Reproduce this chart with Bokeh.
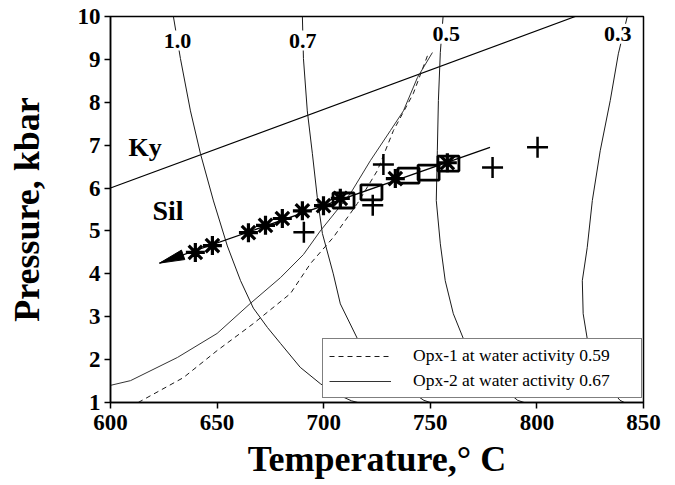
import math
from bokeh.plotting import figure
from bokeh.models import Range1d, FixedTicker, Label, Legend, LegendItem
from bokeh.embed import file_html
from bokeh.resources import INLINE

# ---------------- data ----------------
# Kyanite / Sillimanite boundary
kysil_t = [600, 818]
kysil_p = [6.0, 10.0]

# water-activity isopleths
iso10_t = [629.5, 632.8, 637.5, 642.2, 648.3, 654.8, 661.0, 667.0, 673.6, 679.7, 689.0, 698.4, 705.0, 713.0, 716.0]
iso10_p = [10.0, 9.02, 7.8, 6.8, 5.7, 4.65, 3.84, 3.2, 2.75, 2.38, 1.82, 1.44, 1.22, 1.04, 1.0]
iso07_t = [690.0, 690.5, 692.3, 694.7, 697.0, 699.4, 704.5, 707.8, 715.8, 725.0, 735.0, 747.0, 750.0]
iso07_p = [10.0, 9.02, 7.8, 6.8, 5.78, 4.94, 4.0, 3.3, 2.49, 1.9, 1.45, 1.05, 1.0]
iso05_t = [756.0, 754.7, 753.8, 753.3, 752.8, 754.7, 757.0, 760.8, 765.5, 773.0, 781.0, 791.0, 794.0]
iso05_p = [10.0, 9.16, 8.04, 6.87, 5.71, 4.7, 3.84, 3.07, 2.49, 1.9, 1.45, 1.05, 1.0]
iso03_t = [842.4, 838.2, 834.4, 829.7, 826.0, 823.6, 821.3, 821.7, 823.6, 827.0, 832.0, 839.0, 841.0]
iso03_p = [10.0, 9.13, 8.04, 6.87, 5.71, 4.61, 3.84, 3.07, 2.49, 1.9, 1.45, 1.05, 1.0]

iso_labels = ["1.0", "0.7", "0.5", "0.3"]
iso_label_t = [631.4, 690.2, 757.5, 837.9]
iso_label_p = [9.44, 9.44, 9.60, 9.60]

# Opx curves
opx1_t = [613.0, 634.2, 650.0, 667.0, 684.4, 693.8, 704.5, 715.8, 725.2, 732.7, 742.0, 749.0]
opx1_p = [1.0, 1.58, 2.21, 2.84, 3.54, 4.24, 4.85, 5.64, 6.41, 7.34, 8.2, 9.13]
opx2_t = [600.0, 609.4, 631.4, 650.0, 665.6, 679.7, 690.5, 698.4, 712.5, 721.9, 731.3, 737.4, 744.0, 751.0]
opx2_p = [1.40, 1.51, 2.05, 2.61, 3.31, 3.91, 4.45, 5.0, 5.87, 6.64, 7.34, 7.8, 8.58, 9.16]
legend_labels = ["Opx-1 at water activity 0.59", "Opx-2 at water activity 0.67"]

# P-T path (trend with arrow at low-P end)
trend_t = [778.0, 623.0]
trend_p = [6.95, 4.25]

# estimates
ast_t = [639.8, 647.8, 664.7, 672.7, 680.6, 690.0, 699.9, 707.8, 733.6, 758.0]
ast_p = [4.50, 4.66, 4.96, 5.13, 5.29, 5.47, 5.59, 5.76, 6.22, 6.59]
box_t = [709.3, 722.4, 739.8, 749.2, 758.5]
box_p = [5.71, 5.90, 6.29, 6.36, 6.57]
plus_t = [690.7, 723.0, 728.0, 779.2, 800.3]
plus_p = [4.97, 5.60, 6.55, 6.48, 6.95]

x_ticks = [600, 650, 700, 750, 800, 850]
y_ticks = [1, 2, 3, 4, 5, 6, 7, 8, 9, 10]

# ---------------- figure ----------------
SERIF = "Liberation Serif"
X0, X1, Y0, Y1 = 600, 850, 1, 10
FW, FH = 533, 386
W, H = 665, 485
ML, MT = 110, 16

p = figure(width=W, height=H, output_backend="svg", toolbar_location=None,
           x_range=Range1d(X0, X1), y_range=Range1d(Y0, Y1),
           min_border_left=ML, min_border_top=MT,
           min_border_right=W - ML - FW, min_border_bottom=H - MT - FH)
p.background_fill_color = "white"
p.border_fill_color = "white"
p.outline_line_color = "black"
p.outline_line_width = 1.5
p.xgrid.grid_line_color = None
p.ygrid.grid_line_color = None

for ax, ticks in ((p.xaxis[0], x_ticks), (p.yaxis[0], y_ticks)):
    ax.ticker = FixedTicker(ticks=ticks)
    ax.axis_line_color = "black"
    ax.axis_line_width = 1.5
    ax.major_tick_line_color = "black"
    ax.major_tick_line_width = 1.5
    ax.major_tick_out = 6
    ax.major_tick_in = 0
    ax.minor_tick_line_color = None
    ax.major_label_text_font = SERIF
    ax.major_label_text_font_style = "bold"
    ax.major_label_text_font_size = "23px"
    ax.major_label_text_color = "black"
    ax.axis_label_text_font = SERIF
    ax.axis_label_text_font_style = "bold"
    ax.axis_label_text_font_size = "36px"
    ax.axis_label_text_color = "black"

p.xaxis.axis_label = "Temperature,\u00b0 C"
p.yaxis.axis_label = "Pressure, kbar"
p.xaxis.major_label_standoff = 6
p.yaxis.major_label_standoff = 4
p.xaxis.axis_label_standoff = 6
p.yaxis.axis_label_standoff = 28

LC = "#1a1a1a"
p.line(kysil_t, kysil_p, line_color="black", line_width=1.2)
for tt, pp in ((iso10_t, iso10_p), (iso07_t, iso07_p), (iso05_t, iso05_p), (iso03_t, iso03_p)):
    p.line(tt, pp, line_color=LC, line_width=1)

r1 = p.line(opx1_t, opx1_p, line_color=LC, line_width=1, line_dash="5 4")
r2 = p.line(opx2_t, opx2_p, line_color="#333333", line_width=1)

# trend line with arrow head
p.line(trend_t, trend_p, line_color="black", line_width=1.2)
sx = FW / (X1 - X0)
sy = FH / (Y1 - Y0)
tip_t, tip_p = trend_t[-1], trend_p[-1]
dx = (trend_t[0] - tip_t) * sx
dy = (trend_p[0] - tip_p) * sy
L = math.hypot(dx, dy)
ux, uy = dx / L, dy / L
hl, hw = 25, 5
bx, by = hl * ux, hl * uy
head_t = [tip_t, tip_t + (bx - hw * uy) / sx, tip_t + (bx + hw * uy) / sx]
head_p = [tip_p, tip_p + (by + hw * ux) / sy, tip_p + (by - hw * ux) / sy]
p.patch(head_t, head_p, fill_color="black", line_color="black")

# samples
p.scatter(ast_t, ast_p, marker="asterisk", size=19, line_color="black", line_width=3.2)
p.rect(box_t, box_p, width=21, height=15, width_units="screen", height_units="screen",
       fill_color=None, line_color="black", line_width=2.8)
p.scatter(plus_t, plus_p, marker="cross", size=21, line_color="black", line_width=2.5)

# isopleth labels
for txt, tx, ty in zip(iso_labels, iso_label_t, iso_label_p):
    p.add_layout(Label(x=tx, y=ty, text=txt, text_align="center", text_baseline="middle",
                       text_font=SERIF, text_font_style="bold", text_font_size="22px",
                       text_color="black", background_fill_color="white", padding=3))

p.add_layout(Label(x=608.4, y=6.94, text="Ky", text_baseline="alphabetic",
                   text_font=SERIF, text_font_style="bold", text_font_size="26px", text_color="black"))
p.add_layout(Label(x=619.7, y=5.48, text="Sil", text_baseline="alphabetic",
                   text_font=SERIF, text_font_style="bold", text_font_size="28px", text_color="black"))

legend = Legend(items=[LegendItem(label=legend_labels[0], renderers=[r1]),
                       LegendItem(label=legend_labels[1], renderers=[r2])],
                location=(212, 4), padding=6, spacing=4, glyph_width=62, glyph_height=20,
                label_height=20, label_width=222, label_standoff=22, margin=0,
                border_line_color="black", border_line_width=1.5,
                background_fill_color="white", background_fill_alpha=1.0,
                label_text_font=SERIF, label_text_font_size="17.5px", label_text_color="black")
p.add_layout(legend)

open("out.html", "w").write(file_html(p, INLINE))
